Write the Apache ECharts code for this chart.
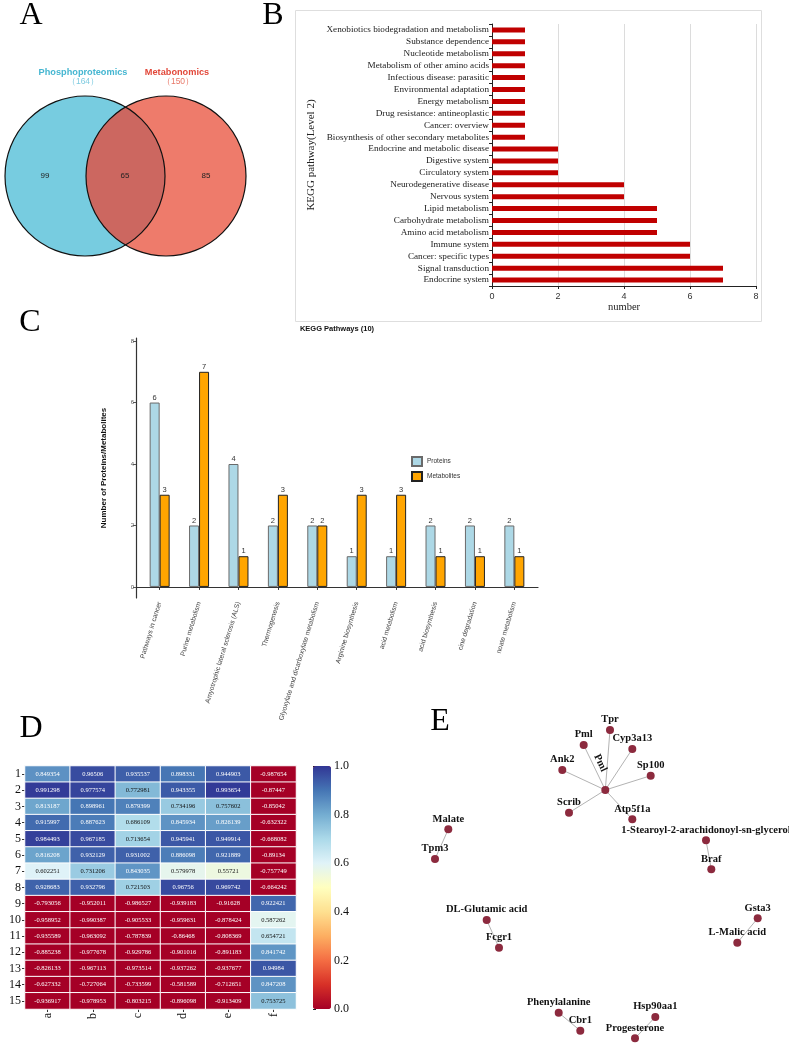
<!DOCTYPE html>
<html><head><meta charset="utf-8">
<script src="https://cdn.jsdelivr.net/npm/echarts@6/dist/echarts.min.js"></script>
<style>html,body{margin:0;padding:0;background:#fff}#c{width:789px;height:1044px}</style>
</head><body><div id="c"></div>
<script>
// ---------- Panel A: Venn ----------
const vennSets = ['Phosphoproteomics', 'Metabonomics'];
const vennTotals = [164, 150];
const vennRegionCounts = [99, 65, 85]; // only A, both, only B

// ---------- Panel B: KEGG level 2 (bottom -> top) ----------
const keggL2Categories = ['Endocrine system','Signal transduction','Cancer: specific types','Immune system','Amino acid metabolism','Carbohydrate metabolism','Lipid metabolism','Nervous system','Neurodegenerative disease','Circulatory system','Digestive system','Endocrine and metabolic disease','Biosynthesis of other secondary metabolites','Cancer: overview','Drug resistance: antineoplastic','Energy metabolism','Environmental adaptation','Infectious disease: parasitic','Metabolism of other amino acids','Nucleotide metabolism','Substance dependence','Xenobiotics biodegradation and metabolism'];
const keggL2Counts = [7,7,6,6,5,5,5,4,4,2,2,2,1,1,1,1,1,1,1,1,1,1];
const keggL2Ticks = [0,2,4,6,8];

// ---------- Panel C: KEGG pathways ----------
const pathwayNames = ['Pathways in cancer','Purine metabolism','Amyotrophic lateral sclerosis (ALS)','Thermogenesis','Glyoxylate and dicarboxylate metabolism','Arginine biosynthesis','acid metabolism','acid biosynthesis','cine degradation','noate metabolism'];
const proteinCounts = [6,2,4,2,2,1,1,2,2,2];
const metaboliteCounts = [3,7,1,3,2,3,3,1,1,1];
const pathwayTicks = [0,2,4,6,8];

// ---------- Panel D: correlation heatmap ----------
const heatCols = ['a','b','c','d','e','f'];
const heatRows = ['1','2','3','4','5','6','7','8','9','10','11','12','13','14','15'];
const heatValues = [
  [0.849354, 0.96506, 0.935537, 0.898331, 0.944903, -0.987654],
  [0.991298, 0.977574, 0.772981, 0.943355, 0.993654, -0.87447],
  [0.813187, 0.898961, 0.879399, 0.734196, 0.757602, -0.85042],
  [0.915997, 0.887623, 0.686109, 0.845934, 0.826139, -0.632322],
  [0.984493, 0.967185, 0.713654, 0.945941, 0.949914, -0.668082],
  [0.816208, 0.932129, 0.931002, 0.886098, 0.921889, -0.89134],
  [0.602251, 0.731206, 0.843035, 0.579978, 0.55721, -0.757749],
  [0.928683, 0.932796, 0.721503, 0.96756, 0.969742, -0.664242],
  [-0.793056, -0.952011, -0.986527, -0.939183, -0.91628, 0.922421],
  [-0.958952, -0.990387, -0.905533, -0.959631, -0.878424, 0.587262],
  [-0.935589, -0.963092, -0.787839, -0.86468, -0.808369, 0.654721],
  [-0.885238, -0.977678, -0.929786, -0.901016, -0.891183, 0.841742],
  [-0.826133, -0.967113, -0.973514, -0.937262, -0.937677, 0.94984],
  [-0.627332, -0.727064, -0.733599, -0.581589, -0.712651, 0.847208],
  [-0.936917, -0.978953, -0.803215, -0.896098, -0.913409, 0.753725]
];
const colorbarTicks = [0, 0.2, 0.4, 0.6, 0.8, 1.0];

// ---------- Panel E: network ----------
const netNodes = ['hub','Tpr','Pml','Cyp3a13','Ank2','Sp100','Scrib','Atp5f1a','1-Stearoyl-2-arachidonoyl-sn-glycerol','Braf','Malate','Tpm3','DL-Glutamic acid','Fcgr1','Gsta3','L-Malic acid','Phenylalanine','Cbr1','Hsp90aa1','Progesterone'];
const netX = [205.3,210,183.7,232.3,162.3,250.7,169,232.3,306,311.3,48.3,35,86.7,99,357.7,337.3,158.7,180.3,255.3,235];
const netY = [90,30,45,49,70,75.7,112.7,119.3,140.3,169.3,129.3,159,220,247.7,218.3,242.7,312.7,330.7,317,338.3];
const netLinks = [['hub','Tpr'],['hub','Pml'],['hub','Cyp3a13'],['hub','Ank2'],['hub','Sp100'],['hub','Scrib'],['hub','Atp5f1a'],['Malate','Tpm3'],['1-Stearoyl-2-arachidonoyl-sn-glycerol','Braf'],['DL-Glutamic acid','Fcgr1'],['Gsta3','L-Malic acid'],['Phenylalanine','Cbr1'],['Hsp90aa1','Progesterone']];
const hubLabel = 'Pml';

// ---------- build ----------
const SERIF = '"Liberation Serif","Times New Roman",serif';
const SANS = '"Liberation Sans",Arial,sans-serif';
const RdYlBu = ['#a50026','#d73027','#f46d43','#fdae61','#fee090','#ffffbf','#e0f3f8','#abd9e9','#74add1','#4575b4','#313695'];

const heatData = [];
heatValues.forEach((row, r) => row.forEach((v, c) => {
  heatData.push({value: [c, r, v], label: {color: (v > 0 && v < 0.8) ? '#111' : '#fff'}});
}));

const netData = netNodes.map((n, i) => {
  const d = {name: n, value: [netX[i], netY[i]]};
  if (n === 'hub') d.label = {show: true, formatter: hubLabel, rotate: -64, position: [-1, -23], align: 'center', verticalAlign: 'middle'};
  return d;
});

const chart = echarts.init(document.getElementById('c'), null, {renderer: 'canvas'});

const panelLetter = (t, x, y) => ({type: 'text', x: x, y: y, style: {text: t, font: '32px ' + SERIF, fill: '#000', align: 'center', verticalAlign: 'middle'}});

const option = {
  animation: false,
  backgroundColor: '#fff',
  graphic: [
    panelLetter('A', 31, 16),
    panelLetter('B', 273, 16),
    panelLetter('C', 30, 323),
    panelLetter('D', 31, 729),
    panelLetter('E', 440, 722),
    {type: 'rect', z: -1, shape: {x: 295.5, y: 10.5, width: 466, height: 311}, style: {fill: null, stroke: '#dedede', lineWidth: 1}},
    {type: 'text', x: 337, y: 329, style: {text: 'KEGG Pathways (10)', font: 'bold 7.5px ' + SANS, fill: '#111', align: 'center', verticalAlign: 'middle'}}
  ],
  legend: {
    data: ['Proteins', 'Metabolites'], orient: 'vertical', left: 411, top: 456, padding: 0,
    itemWidth: 10, itemHeight: 9, itemGap: 4, icon: 'rect',
    textStyle: {fontSize: 6.5, color: '#333', fontFamily: SANS}
  },
  grid: [
    {left: 492, top: 24, width: 264, height: 262},
    {left: 136, top: 338, width: 402, height: 260},
    {left: 25, top: 766, width: 271, height: 243},
    {left: 313, top: 766, width: 18, height: 243},
    {left: 400, top: 700, width: 389, height: 344}
  ],
  xAxis: [
    {gridIndex: 0, type: 'value', min: 0, max: 8, interval: 2,
      axisLine: {show: true, lineStyle: {color: '#222'}}, axisTick: {show: true, length: 3, lineStyle: {color: '#222'}},
      axisLabel: {fontSize: 9, color: '#333', fontFamily: SANS, margin: 6, customValues: keggL2Ticks},
      splitLine: {show: true, lineStyle: {color: '#dcdcdc'}},
      name: 'number', nameLocation: 'middle', nameGap: 16, nameTextStyle: {fontFamily: SERIF, fontSize: 10.5, color: '#222'}},
    {gridIndex: 1, type: 'value', min: 0.4, max: 10.6,
      axisLine: {show: true, lineStyle: {color: '#333', width: 1.2}},
      axisTick: {show: true, length: 3, customValues: pathwayNames.map((n, i) => i + 1), lineStyle: {color: '#333'}},
      axisLabel: {customValues: pathwayNames.map((n, i) => i + 1), formatter: v => pathwayNames[Math.round(v) - 1], rotate: 73, fontSize: 6.8, color: '#444', fontFamily: SANS, margin: 4},
      splitLine: {show: false}},
    {gridIndex: 2, type: 'category', data: heatCols,
      axisLine: {show: false}, axisTick: {show: true, alignWithLabel: true, length: 3, lineStyle: {color: '#333'}},
      axisLabel: {rotate: 90, fontFamily: SERIF, fontSize: 12, color: '#111', margin: 4}},
    {gridIndex: 3, type: 'value', show: false, min: 0, max: 1},
    {gridIndex: 4, type: 'value', show: false, min: 0, max: 389}
  ],
  yAxis: [
    {gridIndex: 0, type: 'category', data: keggL2Categories,
      axisLine: {show: true, lineStyle: {color: '#222'}}, axisTick: {show: true, length: 3, lineStyle: {color: '#222'}},
      axisLabel: {fontFamily: SERIF, fontSize: 9.2, color: '#222', margin: 3, interval: 0},
      name: 'KEGG pathway(Level 2)', nameLocation: 'middle', nameGap: 175, nameTextStyle: {fontFamily: SERIF, fontSize: 11, color: '#222'}},
    {gridIndex: 1, type: 'value', min: -0.36, max: 8.1,
      axisLine: {show: true, lineStyle: {color: '#333', width: 1.2}},
      axisTick: {show: true, length: 3, customValues: pathwayTicks, lineStyle: {color: '#555'}},
      axisLabel: {customValues: pathwayTicks, fontSize: 6, color: '#555', fontFamily: SANS, margin: 2},
      splitLine: {show: false},
      name: 'Number of Proteins/Metabolites', nameLocation: 'middle', nameGap: 28, nameTextStyle: {fontFamily: SANS, fontSize: 8, fontWeight: 'bold', color: '#111'}},
    {gridIndex: 2, type: 'category', data: heatRows, inverse: true,
      axisLine: {show: false}, axisTick: {show: true, alignWithLabel: true, length: 3, lineStyle: {color: '#333'}},
      axisLabel: {fontFamily: SERIF, fontSize: 12, color: '#111', margin: 4}},
    {gridIndex: 3, type: 'value', position: 'right', min: 0, max: 1,
      axisLine: {show: false}, axisTick: {show: true, length: 3, customValues: colorbarTicks, lineStyle: {color: '#222'}},
      axisLabel: {customValues: colorbarTicks, formatter: v => v.toFixed(1), fontFamily: SERIF, fontSize: 12, color: '#111', margin: 3},
      splitLine: {show: false}},
    {gridIndex: 4, type: 'value', show: false, min: 0, max: 344, inverse: true}
  ],
  visualMap: {
    type: 'continuous', seriesIndex: 4, dimension: 2, min: 0, max: 1,
    calculable: false, left: 313, top: 766, itemWidth: 18, itemHeight: 243, padding: 0,
    inRange: {color: RdYlBu}, outOfRange: {color: '#a50026'}, hoverLink: false
  },
  series: [
    {
      type: 'custom', coordinateSystem: 'none', silent: true,
      data: [vennRegionCounts],
      renderItem: (params, api) => {
        const cy = 176, r = 80, x1 = 85, x2 = 166;
        const mx = (x1 + x2) / 2, h = Math.sqrt(r * r - Math.pow((x2 - x1) / 2, 2));
        const lens = 'M' + mx + ',' + (cy - h) + ' A' + r + ',' + r + ' 0 0 1 ' + mx + ',' + (cy + h) + ' A' + r + ',' + r + ' 0 0 1 ' + mx + ',' + (cy - h) + ' Z';
        const txt = (t, x, y, font, fill) => ({type: 'text', style: {text: t, x: x, y: y, font: font, fill: fill, align: 'center', verticalAlign: 'middle'}});
        return {type: 'group', children: [
          {type: 'circle', shape: {cx: x1, cy: cy, r: r}, style: {fill: '#77cce0'}},
          {type: 'circle', shape: {cx: x2, cy: cy, r: r}, style: {fill: '#ee7b6b'}},
          {type: 'path', shape: {pathData: lens}, style: {fill: '#cc6760'}},
          {type: 'circle', shape: {cx: x1, cy: cy, r: r}, style: {fill: null, stroke: '#111', lineWidth: 1.2}},
          {type: 'circle', shape: {cx: x2, cy: cy, r: r}, style: {fill: null, stroke: '#111', lineWidth: 1.2}},
          txt(vennSets[0], 83, 72, 'bold 9.2px ' + SANS, '#45b6d1'),
          txt('（' + vennTotals[0] + '）', 83, 82, '8.5px ' + SANS, '#7fcbe0'),
          txt(vennSets[1], 177, 72, 'bold 9.2px ' + SANS, '#e2483a'),
          txt('（' + vennTotals[1] + '）', 178, 82, '8.5px ' + SANS, '#e87868'),
          txt(String(api.value(0)), 45, 176, '8px ' + SANS, '#222'),
          txt(String(api.value(1)), 125, 176, '8px ' + SANS, '#222'),
          txt(String(api.value(2)), 206, 176, '8px ' + SANS, '#222')
        ]};
      }
    },
    {
      type: 'bar', xAxisIndex: 0, yAxisIndex: 0, data: keggL2Counts, barWidth: 5,
      itemStyle: {color: '#c00000'}, silent: true
    },
    {
      name: 'Proteins', type: 'bar', xAxisIndex: 1, yAxisIndex: 1, barWidth: 10, barGap: '0%',
      data: proteinCounts.map((v, i) => [i + 1, v]),
      itemStyle: {color: '#add8e6', borderColor: '#6a6a6a', borderWidth: 1},
      label: {show: true, position: 'top', distance: 1, formatter: p => p.value[1], fontSize: 7.5, color: '#333', fontFamily: SANS},
      silent: true
    },
    {
      name: 'Metabolites', type: 'bar', xAxisIndex: 1, yAxisIndex: 1, barWidth: 10, barGap: '0%',
      data: metaboliteCounts.map((v, i) => [i + 1, v]),
      itemStyle: {color: '#ffa500', borderColor: '#222', borderWidth: 1},
      label: {show: true, position: 'top', distance: 1, formatter: p => p.value[1], fontSize: 7.5, color: '#333', fontFamily: SANS},
      silent: true
    },
    {
      type: 'heatmap', xAxisIndex: 2, yAxisIndex: 2, data: heatData,
      itemStyle: {borderColor: '#fff', borderWidth: 1},
      label: {show: true, formatter: p => String(p.value[2]), fontSize: 6.5, fontFamily: SERIF},
      emphasis: {disabled: true}, silent: true
    },
    {
      type: 'graph', coordinateSystem: 'cartesian2d', xAxisIndex: 4, yAxisIndex: 4, layout: 'none',
      symbolSize: 8, data: netData,
      links: netLinks.map(l => ({source: l[0], target: l[1]})),
      itemStyle: {color: '#8c2a3e'},
      lineStyle: {color: '#b3b3b3', width: 1, opacity: 1, curveness: 0},
      label: {show: true, position: 'top', distance: 1, fontFamily: SERIF, fontWeight: 'bold', fontSize: 10.5, color: '#111'},
      emphasis: {disabled: true}, silent: true
    }
  ]
};
chart.setOption(option);
</script></body></html>
